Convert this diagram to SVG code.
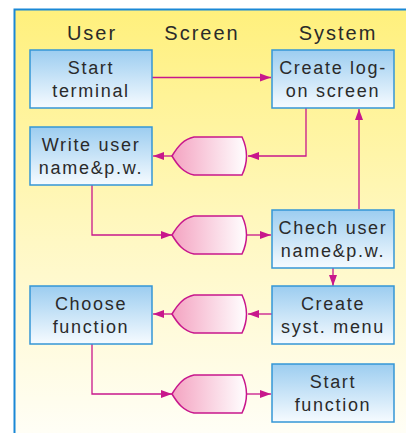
<svg xmlns="http://www.w3.org/2000/svg" width="406" height="433" viewBox="0 0 406 433">
  <defs>
    <linearGradient id="bg" x1="0" y1="0" x2="0" y2="1">
      <stop offset="0" stop-color="#fff07c"/>
      <stop offset="0.55" stop-color="#fff8c4"/>
      <stop offset="1" stop-color="#fffef6"/>
    </linearGradient>
    <linearGradient id="boxFill" x1="0" y1="0" x2="0" y2="1">
      <stop offset="0" stop-color="#9ccdf0"/>
      <stop offset="1" stop-color="#f6fbff"/>
    </linearGradient>
    <linearGradient id="gateFill" x1="0" y1="0" x2="1" y2="0">
      <stop offset="0" stop-color="#f4a3c1"/>
      <stop offset="1" stop-color="#ffffff"/>
    </linearGradient>
    <marker id="arrow" markerUnits="userSpaceOnUse" markerWidth="12" markerHeight="10" refX="11" refY="4.5" orient="auto">
      <path d="M0,0.5 L11,4.5 L0,8.5 Z" fill="#c8178c"/>
    </marker>
    <path id="gate" d="M172,0 C178,-10 184,-17 194,-19 L242,-19 Q251,0 242,19 L194,19 C184,17 178,10 172,0 Z"/>
  </defs>
  <style>
    .box { fill: url(#boxFill); stroke: #3596d6; stroke-width: 1.5; }
    .gate { fill: url(#gateFill); stroke: #c8178c; stroke-width: 1.5; }
    .label { font-family: "Liberation Sans", Arial, sans-serif; font-size: 18px; letter-spacing: 1.7px; fill: #2a2a2a; text-anchor: middle; }
    .head { font-family: "Liberation Sans", Arial, sans-serif; font-size: 20px; letter-spacing: 2px; fill: #2a2a2a; text-anchor: middle; }
    .conn { fill: none; stroke: #c8178c; stroke-width: 1.3; }
  </style>

  <!-- panel background with blue frame on the left and top -->
  <rect x="14" y="9" width="392" height="424" fill="url(#bg)"/>
  <path d="M14.5,433 V9.5 H406" fill="none" stroke="#1a88d6" stroke-width="2"/>

  <!-- column headings -->
  <g id="headings">
    <text class="head" x="92" y="40">User</text>
    <text class="head" x="202" y="40">Screen</text>
    <text class="head" x="338" y="40">System</text>
  </g>

  <!-- connectors -->
  <g id="connectors">
    <path class="conn" d="M152,77.5 H271" marker-end="url(#arrow)"/>
    <path class="conn" d="M306,108 V156 H248" marker-end="url(#arrow)"/>
    <path class="conn" d="M172,156 H153" marker-end="url(#arrow)"/>
    <path class="conn" d="M359,209 V109" marker-end="url(#arrow)"/>
    <path class="conn" d="M92,185 V235 H172" marker-end="url(#arrow)"/>
    <path class="conn" d="M247,235 H271" marker-end="url(#arrow)"/>
    <path class="conn" d="M333,268 V286" marker-end="url(#arrow)"/>
    <path class="conn" d="M272,314 H248" marker-end="url(#arrow)"/>
    <path class="conn" d="M172,314 H153" marker-end="url(#arrow)"/>
    <path class="conn" d="M92,344 V394 H172" marker-end="url(#arrow)"/>
    <path class="conn" d="M247,394 H271" marker-end="url(#arrow)"/>
  </g>

  <!-- screen displays -->
  <g id="screen1"><use href="#gate" class="gate" transform="translate(0,156)"/></g>
  <g id="screen2"><use href="#gate" class="gate" transform="translate(0,235)"/></g>
  <g id="screen3"><use href="#gate" class="gate" transform="translate(0,314)"/></g>
  <g id="screen4"><use href="#gate" class="gate" transform="translate(0,394)"/></g>

  <!-- process boxes -->
  <g id="start-terminal">
    <rect class="box" x="30" y="50" width="122" height="58"/>
    <text class="label" x="91" y="74">Start</text>
    <text class="label" x="91" y="97">terminal</text>
  </g>
  <g id="create-logon">
    <rect class="box" x="272" y="50" width="122" height="58"/>
    <text class="label" x="333" y="74">Create log-</text>
    <text class="label" x="333" y="97">on screen</text>
  </g>
  <g id="write-user">
    <rect class="box" x="30" y="127" width="122" height="58"/>
    <text class="label" x="91" y="151">Write user</text>
    <text class="label" x="91" y="174">name&amp;p.w.</text>
  </g>
  <g id="check-user">
    <rect class="box" x="272" y="210" width="122" height="58"/>
    <text class="label" x="333" y="234">Chech user</text>
    <text class="label" x="333" y="257">name&amp;p.w.</text>
  </g>
  <g id="choose-function">
    <rect class="box" x="30" y="286" width="122" height="58"/>
    <text class="label" x="91" y="310">Choose</text>
    <text class="label" x="91" y="333">function</text>
  </g>
  <g id="create-menu">
    <rect class="box" x="272" y="286" width="122" height="58"/>
    <text class="label" x="333" y="310">Create</text>
    <text class="label" x="333" y="333">syst. menu</text>
  </g>
  <g id="start-function">
    <rect class="box" x="272" y="364" width="122" height="58"/>
    <text class="label" x="333" y="388">Start</text>
    <text class="label" x="333" y="411">function</text>
  </g>
</svg>
